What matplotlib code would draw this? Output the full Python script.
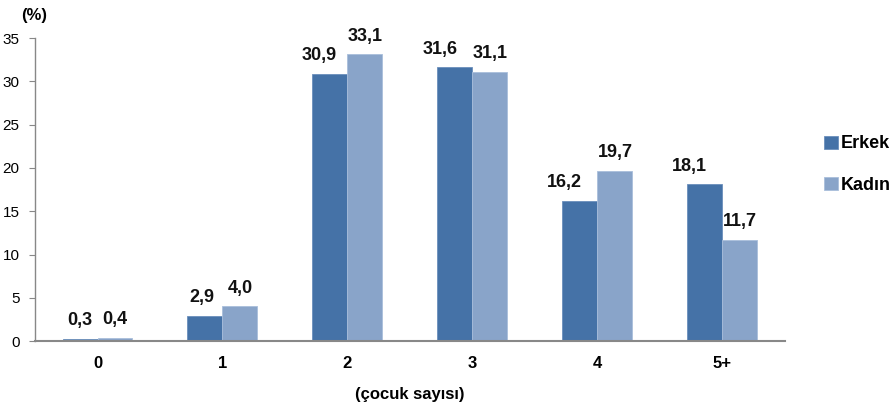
import matplotlib.pyplot as plt
import numpy as np

plt.rcParams['font.family'] = ['Liberation Sans', 'DejaVu Sans']

categories = ['0', '1', '2', '3', '4', '5+']
erkek = [0.3, 2.9, 30.9, 31.6, 16.2, 18.1]
kadin = [0.4, 4.0, 33.1, 31.1, 19.7, 11.7]
series_names = ['Erkek', 'Kadın']

c_erkek = '#4572a7'
c_kadin = '#89a4c9'

fig = plt.figure(figsize=(8.93, 4.11), dpi=100)
ax = fig.add_axes([0.0392, 0.170, 0.8398, 0.7375])

x = np.arange(len(categories))
w = 0.28
b1 = ax.bar(x - w / 2, erkek, w, color=c_erkek, edgecolor='#6b8fbc', linewidth=0.6, label=series_names[0])
b2 = ax.bar(x + w / 2, kadin, w, color=c_kadin, edgecolor='#a9bedb', linewidth=0.6, label=series_names[1])

# Excel nudged some of the Erkek labels to the left
erkek_shift = [0, -2, -8, -11, -11, -11]
kadin_shift = [0, 0, 0, 0, 0, 0]
for bars, vals, shifts in [(b1, erkek, erkek_shift), (b2, kadin, kadin_shift)]:
    for rect, v, dx in zip(bars, vals, shifts):
        ax.annotate(f'{v:.1f}'.replace('.', ','),
                    (rect.get_x() + rect.get_width() / 2, rect.get_height()),
                    xytext=(dx, 7), textcoords='offset points',
                    ha='center', va='bottom', fontsize=13, fontweight='bold', color='#111111')

ax.set_xlim(-0.5, len(categories) - 0.5)
ax.set_ylim(0, 35)
ax.set_yticks(range(0, 36, 5))
ax.set_xticks(x)
ax.set_xticklabels(categories, fontsize=12, fontweight='bold')
ax.tick_params(axis='x', length=0, pad=11)
ax.tick_params(axis='y', length=4, color='#888888', labelsize=11, pad=7)

for s in ['top', 'right']:
    ax.spines[s].set_visible(False)
ax.spines['left'].set_color('#888888')
ax.spines['bottom'].set_color('#888888')
ax.spines['left'].set_linewidth(1.0)
ax.spines['bottom'].set_linewidth(1.5)

ax.set_xlabel('(çocuk sayısı)', fontsize=12, fontweight='bold', labelpad=11)
fig.text(0.024, 0.962, '(%)', fontsize=12, fontweight='bold', ha='left', va='center')

fig.legend(handles=[b1, b2], loc='upper left', bbox_to_anchor=(0.905, 0.71),
           frameon=False, handlelength=0.75, handleheight=0.75,
           handletextpad=0.15, labelspacing=1.35, prop={'weight': 'bold', 'size': 13})

fig.savefig('out.png', dpi=100)
